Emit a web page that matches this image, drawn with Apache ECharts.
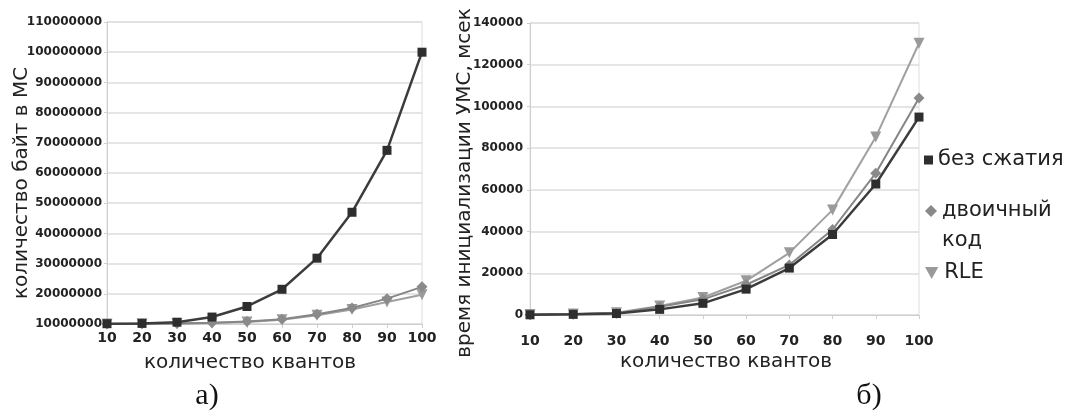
<!DOCTYPE html>
<html><head><meta charset="utf-8">
<script src="https://cdn.jsdelivr.net/npm/echarts@6/dist/echarts.min.js"></script>
<style>html,body{margin:0;padding:0;background:#fff}#c{width:1074px;height:412px}</style>
</head><body><div id="c"></div>
<script>
// categories: number of quanta
const categories = ['10','20','30','40','50','60','70','80','90','100'];
const seriesNames = ['без сжатия', 'двоичный код', 'RLE'];

// chart a) bytes in MC
const bytesNoCompression = [10100000, 10200000, 10600000, 12300000, 15800000, 21500000, 31800000, 47000000, 67500000, 100000000];
const bytesBinary        = [10000000, 10100000, 10200000, 10400000, 10800000, 11600000, 13200000, 15300000, 18400000, 22300000];
const bytesRLE           = [10000000, 10100000, 10200000, 10300000, 10700000, 11400000, 12900000, 14800000, 17300000, 19700000];

// chart б) initialization time, ms
const timeNoCompression = [100, 300, 700, 2700, 5600, 12400, 22500, 38600, 62800, 94900];
const timeBinary        = [150, 400, 900, 4000, 7500, 14500, 24000, 41000, 68000, 104000];
const timeRLE           = [200, 500, 1100, 4300, 8400, 16400, 29800, 50400, 85300, 130300];

const leftTitleY = 'количество байт в МС';
const rightTitleY = 'время инициализации УМС, мсек';
const titleX = 'количество квантов';

const FONT = 'DejaVu Sans';
const gridLine = '#dcdcdc';

function xAxis(gridIndex, margin) {
  return {
    type: 'category', gridIndex, data: categories, boundaryGap: false,
    axisLine: {lineStyle: {color: '#cfcfcf'}},
    axisTick: {show: true, length: 4, interval: 0, lineStyle: {color: '#cfcfcf'}},
    axisLabel: {fontFamily: FONT, fontWeight: 'bold', fontSize: 14, color: '#222', margin, interval: 0, hideOverlap: false},
    splitLine: {show: false}
  };
}
function yAxis(gridIndex, min, max, interval, margin) {
  return {
    type: 'value', gridIndex, min, max, interval,
    axisLine: {show: true, lineStyle: {color: '#cfcfcf'}},
    axisTick: {show: true, length: 3, lineStyle: {color: '#cfcfcf'}},
    axisLabel: {fontFamily: FONT, fontWeight: 'bold', fontSize: 12, color: '#222', margin,
                formatter: v => String(v)},
    splitLine: {lineStyle: {color: gridLine, width: 1.5}}
  };
}
const styles = [
  {line: '#3c3c3c', sym: '#2e2e2e', symbol: 'rect', rotate: 0, size: 9, width: 2.5, z: 4},
  {line: '#858585', sym: '#8a8a8a', symbol: 'diamond', rotate: 0, size: 11, width: 2, z: 3},
  {line: '#a0a0a0', sym: '#9a9a9a', symbol: 'triangle', rotate: 180, size: 11, width: 2, z: 2}
];
function mkSeries(name, data, idx, st) {
  return {
    name, type: 'line', data, xAxisIndex: idx, yAxisIndex: idx,
    symbol: st.symbol, symbolRotate: st.rotate, symbolSize: st.size, z: st.z,
    lineStyle: {color: st.line, width: st.width},
    itemStyle: {color: st.sym},
    emphasis: {disabled: true}
  };
}
const leftData = [bytesNoCompression, bytesBinary, bytesRLE];
const rightData = [timeNoCompression, timeBinary, timeRLE];
const series = [];
[2,1,0].forEach(i => series.push(mkSeries(seriesNames[i], leftData[i], 0, styles[i])));
[2,1,0].forEach(i => series.push(mkSeries(seriesNames[i], rightData[i], 1, styles[i])));

const legendText = {fontFamily: FONT, fontSize: 21, color: '#222', lineHeight: 24};
const chart = echarts.init(document.getElementById('c'));
chart.setOption({
  animation: false,
  backgroundColor: '#fff',
  grid: [
    {left: 107, top: 22, width: 315, height: 302, show: true, borderColor: '#dedede', borderWidth: 1, backgroundColor: 'transparent'},
    {left: 530, top: 23, width: 389, height: 292, show: true, borderColor: '#dedede', borderWidth: 1, backgroundColor: 'transparent'}
  ],
  xAxis: [xAxis(0, 7), xAxis(1, 19)],
  yAxis: [yAxis(0, 10000000, 110000000, 10000000, 5), yAxis(1, 0, 140000, 20000, 7)],
  legend: [
    {left: 924, top: 148, padding: 0, itemWidth: 9, itemHeight: 9, selectedMode: false,
     data: [{name: seriesNames[0], icon: 'rect', itemStyle: {color: '#2e2e2e'}}], textStyle: legendText},
    {left: 925, top: 166, padding: 0, itemWidth: 12, itemHeight: 12, selectedMode: false,
     formatter: () => ' \nдвоичный\nкод',
     data: [{name: seriesNames[1], icon: 'diamond', itemStyle: {color: '#8a8a8a'}}],
     textStyle: Object.assign({}, legendText, {lineHeight: 30})},
    {left: 925, top: 261, padding: 0, itemWidth: 15, itemHeight: 12, selectedMode: false,
     data: [{name: seriesNames[2], icon: 'path://M0,0L10,0L5,9Z', itemStyle: {color: '#9a9a9a'}}], textStyle: legendText}
  ],
  graphic: [
    {type: 'text', x: 22, y: 183, rotation: Math.PI / 2,
     style: {text: leftTitleY, font: '20px "DejaVu Sans"', fill: '#222', align: 'center', verticalAlign: 'middle'}},
    {type: 'text', x: 250, y: 363,
     style: {text: titleX, font: '20px "DejaVu Sans"', fill: '#222', align: 'center', verticalAlign: 'middle'}},
    {type: 'text', x: 465, y: 183, rotation: Math.PI / 2,
     style: {text: rightTitleY, font: '20px "DejaVu Sans"', fill: '#222', align: 'center', verticalAlign: 'middle'}},
    {type: 'text', x: 726, y: 362,
     style: {text: titleX, font: '20px "DejaVu Sans"', fill: '#222', align: 'center', verticalAlign: 'middle'}},
    {type: 'text', x: 207, y: 396,
     style: {text: 'а)', font: '30px "Liberation Serif"', fill: '#111', align: 'center', verticalAlign: 'middle'}},
    {type: 'text', x: 869, y: 396,
     style: {text: 'б)', font: '30px "Liberation Serif"', fill: '#111', align: 'center', verticalAlign: 'middle'}}
  ],
  series
});
</script>
</body></html>
